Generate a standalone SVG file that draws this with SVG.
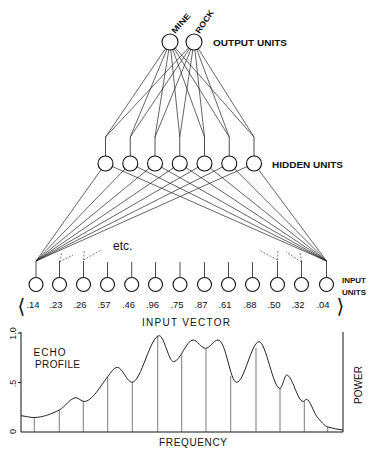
<svg xmlns="http://www.w3.org/2000/svg" width="372" height="451" viewBox="0 0 372 451">
  <style>
    .unit { fill: #fff; stroke: #111; stroke-width: 1.1; }
    .wire { stroke: #222; stroke-width: 0.7; fill: none; }
    .stub { stroke: #222; stroke-width: 0.8; }
    .dash { stroke: #444; stroke-width: 0.7; stroke-dasharray: 2 1.5; fill: none; }
    .lbl { font-family: "Liberation Sans", Arial, sans-serif; fill: #111; }
    .bold { font-weight: bold; }
    .axis { stroke: #111; stroke-width: 1; fill: none; }
    .sample { stroke: #444; stroke-width: 0.7; }
    .curve { stroke: #222; stroke-width: 1; fill: none; }
  </style>

  <!-- connectors -->
  <g id="connectors">
    <!-- output units to hidden stubs -->
    <g class="wire">
      <line x1="165.51" y1="48.62" x2="105.5" y2="137"/>
      <line x1="166.91" y1="49.38" x2="130.25" y2="137"/>
      <line x1="168.75" y1="49.9" x2="155" y2="137"/>
      <line x1="170.82" y1="49.96" x2="179.75" y2="137"/>
      <line x1="172.73" y1="49.52" x2="204.5" y2="137"/>
      <line x1="174.23" y1="48.79" x2="229.25" y2="137"/>
      <line x1="175.3" y1="47.99" x2="254" y2="137"/>
      <line x1="188.55" y1="47.86" x2="105.5" y2="137"/>
      <line x1="189.54" y1="48.64" x2="130.25" y2="137"/>
      <line x1="190.96" y1="49.4" x2="155" y2="137"/>
      <line x1="192.81" y1="49.91" x2="179.75" y2="137"/>
      <line x1="194.88" y1="49.95" x2="204.5" y2="137"/>
      <line x1="196.78" y1="49.5" x2="229.25" y2="137"/>
      <line x1="198.27" y1="48.76" x2="254" y2="137"/>
    </g>
    <!-- hidden stubs -->
    <g class="stub">
      <line x1="105.5" y1="137" x2="105.5" y2="156"/>
      <line x1="130.25" y1="137" x2="130.25" y2="156"/>
      <line x1="155" y1="137" x2="155" y2="156"/>
      <line x1="179.75" y1="137" x2="179.75" y2="156"/>
      <line x1="204.5" y1="137" x2="204.5" y2="156"/>
      <line x1="229.25" y1="137" x2="229.25" y2="156"/>
      <line x1="254" y1="137" x2="254" y2="156"/>
    </g>
    <!-- hidden units to first and last input stubs -->
    <g class="wire">
      <line x1="101.15" y1="169.61" x2="36" y2="261"/>
      <line x1="125.04" y1="168.89" x2="36" y2="261"/>
      <line x1="149.2" y1="168.25" x2="36" y2="261"/>
      <line x1="173.54" y1="167.71" x2="36" y2="261"/>
      <line x1="198.01" y1="167.26" x2="36" y2="261"/>
      <line x1="222.55" y1="166.88" x2="36" y2="261"/>
      <line x1="247.15" y1="166.56" x2="36" y2="261"/>
      <line x1="112.36" y1="166.53" x2="326.5" y2="261"/>
      <line x1="136.97" y1="166.84" x2="326.5" y2="261"/>
      <line x1="161.52" y1="167.21" x2="326.5" y2="261"/>
      <line x1="186" y1="167.65" x2="326.5" y2="261"/>
      <line x1="210.36" y1="168.18" x2="326.5" y2="261"/>
      <line x1="234.55" y1="168.81" x2="326.5" y2="261"/>
      <line x1="258.48" y1="169.52" x2="326.5" y2="261"/>
    </g>
    <!-- remaining connections, indicated only -->
    <g class="dash">
      <line x1="59.5" y1="262" x2="73" y2="255"/>
      <line x1="59.5" y1="262" x2="62" y2="252"/>
      <line x1="83.5" y1="260" x2="101" y2="250"/>
      <line x1="83.5" y1="260" x2="84.5" y2="250"/>
      <line x1="301.5" y1="262" x2="286" y2="252"/>
      <line x1="301.5" y1="262" x2="300" y2="252"/>
      <line x1="277.5" y1="260" x2="259" y2="250"/>
      <line x1="277.5" y1="260" x2="278" y2="250"/>
    </g>
    <!-- input stubs -->
    <g class="stub">
      <line x1="36" y1="261" x2="36" y2="277.5"/>
      <line x1="59.5" y1="261" x2="59.5" y2="277.5"/>
      <line x1="83.5" y1="261" x2="83.5" y2="277.5"/>
      <line x1="107.5" y1="262" x2="107.5" y2="277.5"/>
      <line x1="131.7" y1="262" x2="131.7" y2="277.5"/>
      <line x1="155.5" y1="262" x2="155.5" y2="277.5"/>
      <line x1="180" y1="262" x2="180" y2="277.5"/>
      <line x1="204.5" y1="262" x2="204.5" y2="277.5"/>
      <line x1="228.5" y1="262" x2="228.5" y2="277.5"/>
      <line x1="252.5" y1="262" x2="252.5" y2="277.5"/>
      <line x1="277.5" y1="261" x2="277.5" y2="277.5"/>
      <line x1="301.5" y1="261" x2="301.5" y2="277.5"/>
      <line x1="326.5" y1="261" x2="326.5" y2="277.5"/>
    </g>
  </g>

  <!-- output layer -->
  <g id="output-mine">
    <circle class="unit" cx="170" cy="42" r="8"/>
    <text class="lbl bold" font-size="8" textLength="24" lengthAdjust="spacingAndGlyphs" transform="translate(175,34) rotate(-48)">MINE</text>
  </g>
  <g id="output-rock">
    <circle class="unit" cx="194" cy="42" r="8"/>
    <text class="lbl bold" font-size="8" textLength="26" lengthAdjust="spacingAndGlyphs" transform="translate(199.5,34) rotate(-56)">ROCK</text>
  </g>
  <text class="lbl bold" x="213" y="46" font-size="8.5" textLength="74" lengthAdjust="spacingAndGlyphs">OUTPUT  UNITS</text>

  <!-- hidden layer -->
  <g id="hidden-1"><circle class="unit" cx="105.5" cy="163.5" r="7.5"/></g>
  <g id="hidden-2"><circle class="unit" cx="130.25" cy="163.5" r="7.5"/></g>
  <g id="hidden-3"><circle class="unit" cx="155" cy="163.5" r="7.5"/></g>
  <g id="hidden-4"><circle class="unit" cx="179.75" cy="163.5" r="7.5"/></g>
  <g id="hidden-5"><circle class="unit" cx="204.5" cy="163.5" r="7.5"/></g>
  <g id="hidden-6"><circle class="unit" cx="229.25" cy="163.5" r="7.5"/></g>
  <g id="hidden-7"><circle class="unit" cx="254" cy="163.5" r="7.5"/></g>
  <text class="lbl bold" x="272" y="167.5" font-size="8.5" textLength="71" lengthAdjust="spacingAndGlyphs">HIDDEN  UNITS</text>

  <text class="lbl" x="113" y="250" font-size="12">etc.</text>

  <!-- input layer -->
  <g id="input-1"><circle class="unit" cx="36" cy="284.5" r="7"/></g>
  <g id="input-2"><circle class="unit" cx="59.5" cy="284.5" r="7"/></g>
  <g id="input-3"><circle class="unit" cx="83.5" cy="284.5" r="7"/></g>
  <g id="input-4"><circle class="unit" cx="107.5" cy="284.5" r="7"/></g>
  <g id="input-5"><circle class="unit" cx="131.7" cy="284.5" r="7"/></g>
  <g id="input-6"><circle class="unit" cx="155.5" cy="284.5" r="7"/></g>
  <g id="input-7"><circle class="unit" cx="180" cy="284.5" r="7"/></g>
  <g id="input-8"><circle class="unit" cx="204.5" cy="284.5" r="7"/></g>
  <g id="input-9"><circle class="unit" cx="228.5" cy="284.5" r="7"/></g>
  <g id="input-10"><circle class="unit" cx="252.5" cy="284.5" r="7"/></g>
  <g id="input-11"><circle class="unit" cx="277.5" cy="284.5" r="7"/></g>
  <g id="input-12"><circle class="unit" cx="301.5" cy="284.5" r="7"/></g>
  <g id="input-13"><circle class="unit" cx="326.5" cy="284.5" r="7"/></g>
  <text class="lbl bold" x="342" y="282.5" font-size="8">INPUT</text>
  <text class="lbl bold" x="342" y="295" font-size="8">UNITS</text>

  <!-- input vector values -->
  <g class="lbl" font-size="9.5" text-anchor="middle">
    <text x="21.5" y="313" font-size="20" font-family="DejaVu Sans, sans-serif">⟨</text>
    <text x="33" y="308">.14</text>
    <text x="56" y="308">.23</text>
    <text x="80" y="308">.26</text>
    <text x="104" y="308">.57</text>
    <text x="128.5" y="308">.46</text>
    <text x="152.5" y="308">.96</text>
    <text x="177" y="308">.75</text>
    <text x="201" y="308">.87</text>
    <text x="225" y="308">.61</text>
    <text x="250" y="308">.88</text>
    <text x="274" y="308">.50</text>
    <text x="298" y="308">.32</text>
    <text x="323" y="308">.04</text>
    <text x="340.5" y="313" font-size="20" font-family="DejaVu Sans, sans-serif">⟩</text>
  </g>
  <text class="lbl" x="142" y="325.5" font-size="10" textLength="88" lengthAdjust="spacing">INPUT  VECTOR</text>

  <!-- echo profile plot -->
  <g id="echo-profile">
    <path class="axis" d="M21 332 V432 H343 V332"/>
    <path class="axis" d="M18 333 H21 M18 382.5 H21"/>
    <g class="lbl" font-size="9" text-anchor="middle">
      <text transform="translate(15.5,333.5) rotate(-90)">1.0</text>
      <text transform="translate(15.5,383.5) rotate(-90)">.5</text>
      <text transform="translate(15.5,431.5) rotate(-90)">0</text>
    </g>
    <g class="sample">
      <line x1="34.3" y1="432" x2="34.3" y2="417.5"/>
      <line x1="59.3" y1="432" x2="59.3" y2="410"/>
      <line x1="83.3" y1="432" x2="83.3" y2="401.3"/>
      <line x1="107.7" y1="432" x2="107.7" y2="376.7"/>
      <line x1="132.3" y1="432" x2="132.3" y2="382.3"/>
      <line x1="157.7" y1="432" x2="157.7" y2="336"/>
      <line x1="181.7" y1="432" x2="181.7" y2="355"/>
      <line x1="206" y1="432" x2="206" y2="348.3"/>
      <line x1="230.7" y1="432" x2="230.7" y2="376"/>
      <line x1="256" y1="432" x2="256" y2="348"/>
      <line x1="280" y1="432" x2="280" y2="388.3"/>
      <line x1="304.3" y1="432" x2="304.3" y2="401.3"/>
      <line x1="327.7" y1="432" x2="327.7" y2="427"/>
    </g>
    <path class="curve" d="M21 415.7
      C25.33 416.13 29.67 417.5 34 417.5
      C42.43 417.5 50.87 414.2 59.3 410
      C64.87 407.22 70.43 397.7 76 397.7
      C78.67 397.7 81.33 401.5 84 401.5
      C91.9 401.5 99.8 386.97 107.7 376.7
      C110.9 372.54 114.1 367.3 117.3 367.3
      C122.2 367.3 127.1 382.3 132 382.3
      C141.1 382.3 150.2 335.7 159.3 335.7
      C164.03 335.7 168.77 361.7 173.5 361.7
      C180 361.7 186.5 340 193 340
      C197.17 340 201.33 348.3 205.5 348.3
      C209.67 348.3 213.83 340 218 340
      C226 340 230 382.3 236.7 382.3
      C244.13 382.3 251.57 341.7 259 341.7
      C266 341.7 273 388.5 280 388.5
      C282.23 388.5 284.47 375 286.7 375
      C292.13 375 297.57 401.5 303 401.5
      C304.17 401.5 305.33 399.3 306.5 399.3
      C310 399.3 313.5 412.5 317 416.7
      C320.67 421.1 324.33 425.9 328 427
      C333 428.5 338 429.5 343 430"/>
    <text class="lbl" x="33.5" y="356" font-size="10" textLength="32" lengthAdjust="spacing">ECHO</text>
    <text class="lbl" x="35" y="368" font-size="10" textLength="45" lengthAdjust="spacing">PROFILE</text>
    <text class="lbl" x="159" y="446" font-size="10" textLength="68" lengthAdjust="spacing">FREQUENCY</text>
    <text class="lbl" font-size="10" text-anchor="middle" transform="translate(361.5,385) rotate(-90)">POWER</text>
  </g>
</svg>
